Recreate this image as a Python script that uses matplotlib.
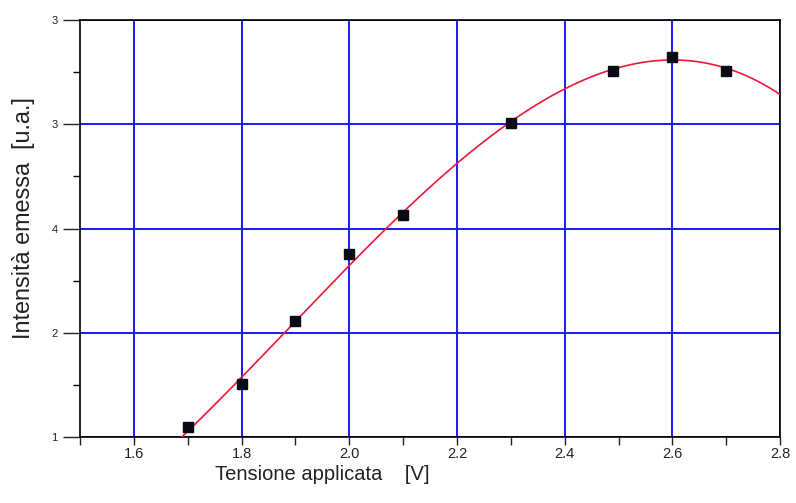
import numpy as np
import matplotlib
matplotlib.use("Agg")
import matplotlib.pyplot as plt
from matplotlib.ticker import MultipleLocator, FixedLocator
from matplotlib import font_manager

# Measured emission vs applied voltage
voltage = [1.70, 1.80, 1.90, 2.00, 2.10, 2.30, 2.49, 2.60, 2.70]
intensity = [1.10, 1.51, 2.11, 2.76, 3.13, 4.01, 4.51, 4.65, 4.51]

# Trend curve samples (voltage, intensity)
curve_v = [1.69, 1.80, 1.887, 2.00, 2.065, 2.20, 2.30, 2.40, 2.50, 2.59, 2.70, 2.80]
curve_i = [1.00, 1.60, 2.00, 2.65, 3.00, 3.625, 4.01, 4.34, 4.56, 4.61, 4.53, 4.29]

x_ticks = [1.6, 1.8, 2.0, 2.2, 2.4, 2.6, 2.8]
x_tick_labels = ["1.6", "1.8", "2.0", "2.2", "2.4", "2.6", "2.8"]
y_ticks = [1, 2, 3, 4, 5]
y_tick_labels = ["1", "2", "4", "3", "3"]

names = {f.name for f in font_manager.fontManager.ttflist}
narrow = "Liberation Sans Narrow" if "Liberation Sans Narrow" in names else "Liberation Sans"

fig = plt.figure(figsize=(7.96, 5.03), dpi=100)
ax = fig.add_axes([0.1005, 0.1312, 0.8795, 0.8290])

# smooth cubic through the curve samples
coef = np.polyfit(curve_v, curve_i, 3)
xs = np.linspace(1.68, 2.8, 300)
ax.plot(xs, np.polyval(coef, xs), color="#ee1838", lw=1.2, zorder=3)

ax.plot(voltage, intensity, "s", color="#0a0a14", ms=6.5, zorder=4)

ax.set_xlim(1.5, 2.8)
ax.set_ylim(1, 5)
ax.xaxis.set_major_locator(FixedLocator(x_ticks))
ax.set_xticklabels(x_tick_labels)
ax.xaxis.set_minor_locator(MultipleLocator(0.1))
ax.yaxis.set_major_locator(FixedLocator(y_ticks))
ax.set_yticklabels(y_tick_labels)
ax.yaxis.set_minor_locator(MultipleLocator(0.5))

ax.grid(True, which="major", color="#1a1aff", lw=1.4, zorder=1)
ax.tick_params(axis="x", which="both", direction="out", length=6, width=1.0,
               labelsize=10.5, colors="#222222", pad=1.5)
ax.tick_params(axis="y", which="major", direction="out", length=12, width=1.0,
               labelsize=8, colors="#222222", pad=4)
ax.tick_params(axis="y", which="minor", direction="out", length=5, width=1.0)
for lab in ax.get_xticklabels() + ax.get_yticklabels():
    lab.set_family(narrow)
for s in ax.spines.values():
    s.set_color("black")
    s.set_linewidth(1.2)

ax.set_xlabel("Tensione applicata    [V]", fontsize=14.5, color="#222222",
              family=narrow)
ax.xaxis.set_label_coords(0.346, -0.068)
ax.set_ylabel("Intensità emessa  [u.a.]", fontsize=16.8, color="#222222",
              family=narrow)
ax.yaxis.set_label_coords(-0.064, 0.525)

fig.savefig("out.png", dpi=100)
